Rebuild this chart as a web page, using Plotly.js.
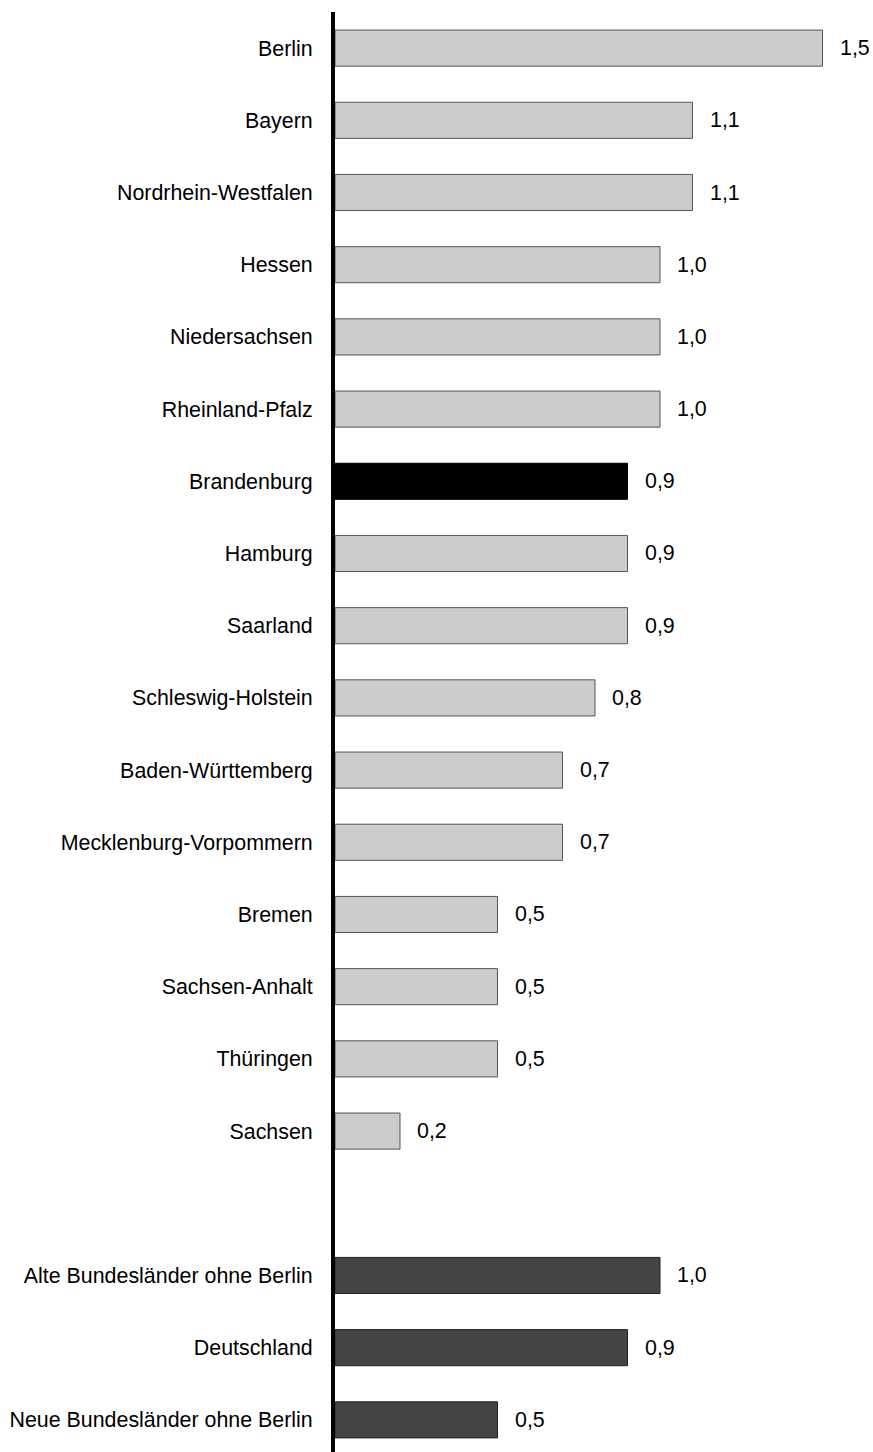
<!DOCTYPE html>
<html>
<head>
<meta charset="utf-8">
<script src="https://cdn.plot.ly/plotly-3.0.1.min.js"></script>
<style>html,body{margin:0;padding:0;background:#fff;}#chart{width:873px;height:1452px;}</style>
</head>
<body>
<div id="chart"></div>
<script>
const categories = ["Berlin","Bayern","Nordrhein-Westfalen","Hessen","Niedersachsen","Rheinland-Pfalz","Brandenburg","Hamburg","Saarland","Schleswig-Holstein","Baden-Württemberg","Mecklenburg-Vorpommern","Bremen","Sachsen-Anhalt","Thüringen","Sachsen"," ","Alte Bundesländer ohne Berlin","Deutschland","Neue Bundesländer ohne Berlin"];
const values = [1.5,1.1,1.1,1.0,1.0,1.0,0.9,0.9,0.9,0.8,0.7,0.7,0.5,0.5,0.5,0.2,null,1.0,0.9,0.5];
const groups = ["land","land","land","land","land","land","highlight","land","land","land","land","land","land","land","land","land","blank","summary","summary","summary"];

const fillFor = {land:"#cccccc", highlight:"#000000", summary:"#444444", blank:"#ffffff"};
const lineFor = {land:"#555555", highlight:"#000000", summary:"#222222", blank:"#ffffff"};

const FONT = "Liberation Sans, Arial, sans-serif";
const FS = 21.4;

const trace = {
  type: "bar",
  orientation: "h",
  y: categories,
  x: values,
  marker: {
    color: groups.map(g => fillFor[g]),
    line: {color: groups.map(g => lineFor[g]), width: 1}
  },
  hoverinfo: "skip"
};

const annotations = categories.map((c, i) => values[i] == null ? null : ({
  x: values[i], y: c, xref: "x", yref: "y",
  text: values[i].toFixed(1).replace(".", ","),
  showarrow: false, xanchor: "left", yanchor: "middle", xshift: 15,
  font: {family: FONT, size: FS, color: "#000"}
})).filter(a => a);

const layout = {
  width: 873, height: 1452,
  margin: {l: 335, r: 18, t: 12, b: 0},
  paper_bgcolor: "#fff", plot_bgcolor: "#fff",
  showlegend: false,
  bargap: 0.5,
  font: {family: FONT, size: FS, color: "#000"},
  xaxis: {range: [0, 1.6], visible: false, fixedrange: true},
  yaxis: {
    type: "category",
    categoryorder: "array", categoryarray: categories,
    range: [19.445, -0.5],
    showline: true, linecolor: "#000", linewidth: 4,
    showgrid: false, zeroline: false,
    ticks: "outside", ticklen: 14, tickcolor: "rgba(0,0,0,0)",
    tickfont: {family: FONT, size: FS, color: "#000"}
  },
  annotations: annotations
};

Plotly.newPlot("chart", [trace], layout, {displayModeBar: false, staticPlot: true});
</script>
</body>
</html>
